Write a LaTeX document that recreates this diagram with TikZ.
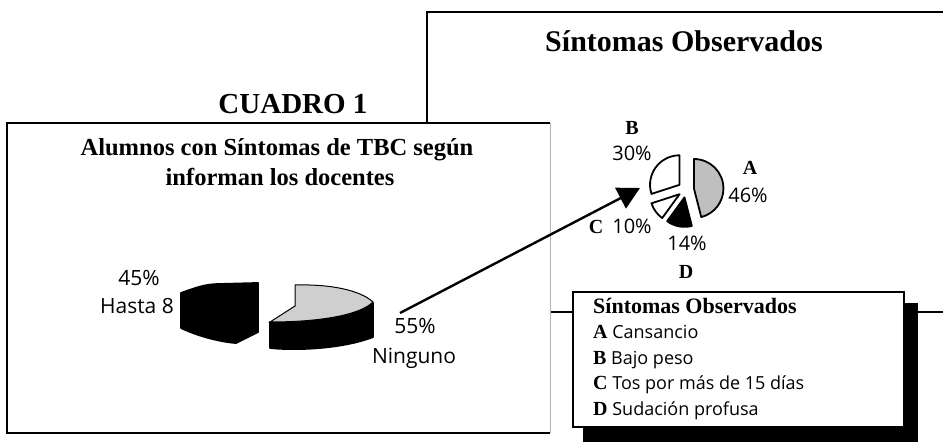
\documentclass[tikz,border=0pt]{standalone}
\usepackage{fontspec}
\setmainfont{Liberation Serif}
\newfontfamily\lblfont{Open Sans}
\newfontfamily\serifbold{Liberation Serif}
\usetikzlibrary{arrows.meta}
\begin{document}
\begin{tikzpicture}[x=1pt,y=-1pt,
  boxline/.style={line width=1.4pt, draw=black},
  pieline/.style={line width=1.8pt, draw=black, line join=round},
  bigtitle/.style={font=\fontsize{29}{33}\selectfont\bfseries, inner sep=0pt, anchor=base},
  toptitle/.style={font=\fontsize{30}{34}\selectfont\bfseries, inner sep=0pt, anchor=base},
  charttitle/.style={font=\fontsize{24.5}{28}\selectfont\bfseries, inner sep=0pt, anchor=base},
  legtitle/.style={font=\fontsize{22}{26}\selectfont\bfseries, inner sep=0pt, anchor=base west},
  legitem/.style={font=\fontsize{18}{22}\selectfont\lblfont, inner sep=0pt, anchor=base west},
  pielbl/.style={font=\fontsize{21}{25}\selectfont\lblfont, inner sep=0pt, anchor=base},
  smlbl/.style={font=\fontsize{20}{24}\selectfont\lblfont, inner sep=0pt, anchor=base},
  letter/.style={font=\fontsize{20}{24}\selectfont\bfseries, inner sep=0pt, anchor=base},
  arrowline/.style={line width=2.4pt, -{Triangle[length=22pt,width=23pt]}}
]
\useasboundingbox (0,0) rectangle (943,442);
\fill[white] (0,0) rectangle (943,442);

% right panel frame
\draw[boxline] (943,12) -- (427,12) -- (427,312) -- (943,312);
\node[toptitle] (rtitle) at (684,51) {Síntomas Observados};

% left panel
\fill[white] (7,123) rectangle (550,433);
\draw[boxline] (550,123) -- (7,123) -- (7,433) -- (550,433);
\draw[line width=1pt, draw=gray!60] (550,123) -- (550,433);
\node[bigtitle] (cuadro) at (293,113) {CUADRO 1};
\node[charttitle] (ct1) at (277,155) {Alumnos con Síntomas de TBC según};
\node[charttitle] (ct2) at (280,185) {informan los docentes};

% 3D pie (left)
\filldraw[pieline, fill=black] (181,293) .. controls (195,288) and (205,284) .. (220,284) -- (258,283) -- (258,332) -- (236,343) .. controls (222,342) and (200,337) .. (181,328) -- cycle;
\filldraw[pieline, fill=black] (270,322) -- (270,348) .. controls (300,351) and (345,348) .. (373,337) -- (373,303) .. controls (360,315) and (320,322) .. (270,322) -- cycle;
\filldraw[line width=1pt, draw=black, fill=gray!38] (295,285) .. controls (330,284) and (360,290) .. (373,302) .. controls (360,315) and (320,322) .. (270,322) -- (295,306) -- cycle;

\node[pielbl] (p45) at (139,285) {45\%};
\node[pielbl] (hasta) at (137,313) {Hasta 8};
\node[pielbl] (p55) at (415,333) {55\%};
\node[pielbl] (ninguno) at (414,363) {Ninguno};

% legend
\fill[black] (583,303) rectangle (918,442);
\filldraw[boxline, fill=white] (573,292) rectangle (904,427);
\node[legtitle] (lt) at (593,313) {Síntomas Observados};
\node[legitem] (la) at (593,338) {{\serifbold\bfseries\fontsize{20}{24}\selectfont A} Cansancio};
\node[legitem] (lb) at (593,364) {{\serifbold\bfseries\fontsize{20}{24}\selectfont B} Bajo peso};
\node[legitem] (lc) at (593,389) {{\serifbold\bfseries\fontsize{20}{24}\selectfont C} Tos por más de 15 días};
\node[legitem] (ld) at (593,415) {{\serifbold\bfseries\fontsize{20}{24}\selectfont D} Sudación profusa};

% exploded pie (right)
\coordinate (pc) at (686,189.5);
\filldraw[pieline, fill=gray!50] (pc) ++(-7.2:8) -- ++(-90:29.5) arc[start angle=-90, end angle=75.6, radius=29.5] -- cycle;
\filldraw[pieline, fill=black] (pc) ++(100.8:8) -- ++(75.6:29.5) arc[start angle=75.6, end angle=126, radius=29.5] -- cycle;
\filldraw[pieline, fill=white] (pc) ++(144:8) -- ++(126:29.5) arc[start angle=126, end angle=162, radius=29.5] -- cycle;
\filldraw[pieline, fill=white] (pc) ++(216:8) -- ++(162:29.5) arc[start angle=162, end angle=270, radius=29.5] -- cycle;

\node[letter] (lB) at (632,134) {B};
\node[smlbl] (p30) at (632,160) {30\%};
\node[letter] (lA) at (750,174) {A};
\node[smlbl] (p46) at (748,202) {46\%};
\node[letter] (lC) at (596,233) {C};
\node[smlbl] (p10) at (632,233) {10\%};
\node[smlbl] (p14) at (687,250) {14\%};
\node[letter] (lD) at (686,278) {D};

% arrow
\coordinate (arrS) at (400,313);
\coordinate (arrE) at (640,188);
\draw[arrowline] (arrS) -- (arrE);
\end{tikzpicture}
\end{document}
